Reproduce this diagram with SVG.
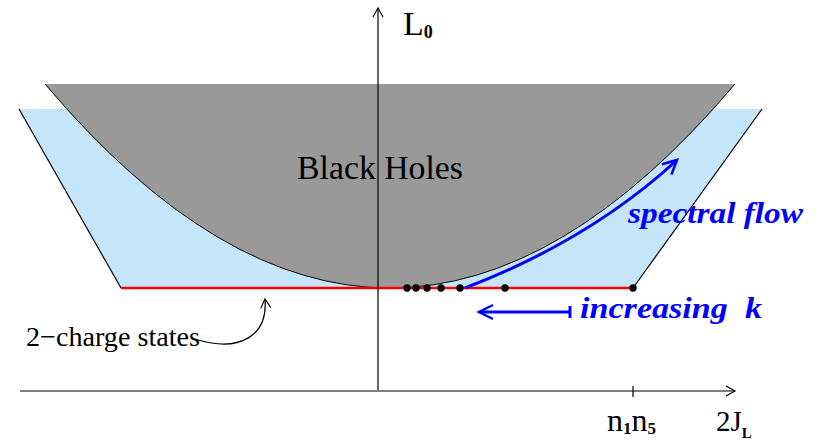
<svg xmlns="http://www.w3.org/2000/svg" width="823" height="443" viewBox="0 0 823 443">
<style>
.t{font-family:"Liberation Serif","Times New Roman",serif;fill:#000}
.b{font-family:"Liberation Serif","Times New Roman",serif;font-weight:bold;font-style:italic;fill:#0000ff}
.ax{stroke:#000;stroke-width:1.2;fill:none}
.blu{stroke:#0000ff;stroke-width:3;fill:none}
.dot{fill:#000}
</style>
<defs>
<marker id="openK" markerWidth="12" markerHeight="12" refX="10" refY="6" orient="auto" markerUnits="userSpaceOnUse">
<path d="M1,1 L10,6 L1,11" fill="none" stroke="#000" stroke-width="1.2"/>
</marker>
<marker id="openB" markerWidth="18" markerHeight="18" refX="15" refY="9" orient="auto" markerUnits="userSpaceOnUse">
<path d="M1,2 L15,9 L1,16" fill="none" stroke="#0000ff" stroke-width="2.5"/>
</marker>
</defs>
<g id="two-charge-region">
<polygon points="19,109 762,109 633,288 121,288" fill="#c5e6fa"/>
<line x1="19" y1="109" x2="121" y2="288" class="ax" stroke-width="1"/>
<line x1="762" y1="109" x2="633" y2="288" class="ax" stroke-width="1"/>
</g>
<g id="black-holes">
<path d="M45,84 L735,84 Q390,492 45,84 Z" fill="#999999"/>
<path d="M45,84 Q390,492 735,84" fill="none" stroke="#000" stroke-width="1"/>
<text class="t" x="297" y="179" font-size="33" textLength="166" lengthAdjust="spacingAndGlyphs">Black Holes</text>
</g>
<g id="two-charge-line">
<line x1="121" y1="288" x2="633" y2="288" stroke="#ff0000" stroke-width="2.5"/>
</g>
<g id="axes">
<line x1="378" y1="390" x2="378" y2="8" class="ax" marker-end="url(#openK)"/>
<line x1="20" y1="391" x2="735" y2="391" class="ax" marker-end="url(#openK)"/>
<line x1="633" y1="386" x2="633" y2="397" class="ax"/>
</g>
<g id="states">
<circle class="dot" cx="407" cy="288" r="3.7"/>
<circle class="dot" cx="416" cy="288" r="3.7"/>
<circle class="dot" cx="427" cy="288" r="3.7"/>
<circle class="dot" cx="441" cy="288" r="3.7"/>
<circle class="dot" cx="460" cy="288" r="3.7"/>
<circle class="dot" cx="505" cy="288" r="3.7"/>
<circle class="dot" cx="633" cy="288" r="3.7"/>
</g>
<g id="connectors">
<path class="blu" d="M465,288 Q590,240 677,160" marker-end="url(#openB)"/>
<line class="blu" x1="570" y1="312" x2="479" y2="312" stroke-width="2.5" marker-end="url(#openB)"/>
<line class="blu" x1="570" y1="306" x2="570" y2="318" stroke-width="2"/>
<path d="M198,340 C240,352 268,336 265,299" fill="none" stroke="#000" stroke-width="1.2" marker-end="url(#openK)"/>
</g>
<g id="labels">
<text class="t" x="403" y="35" font-size="34">L<tspan font-size="18" font-weight="bold" dy="3">0</tspan></text>
<text class="b" x="628" y="223" font-size="30" textLength="175" lengthAdjust="spacingAndGlyphs">spectral flow</text>
<text class="b" x="580" y="318" font-size="30" textLength="182" lengthAdjust="spacingAndGlyphs" xml:space="preserve">increasing  k</text>
<text class="t" x="26" y="346" font-size="28" textLength="174" lengthAdjust="spacingAndGlyphs">2−charge states</text>
<text class="t" x="607" y="431" font-size="32">n<tspan font-size="17" font-weight="bold" dy="3">1</tspan><tspan dy="-3">n</tspan><tspan font-size="17" font-weight="bold" dy="3">5</tspan></text>
<text class="t" x="716" y="431" font-size="29">2J<tspan font-size="15" font-weight="bold" dy="7">L</tspan></text>
</g>
</svg>
